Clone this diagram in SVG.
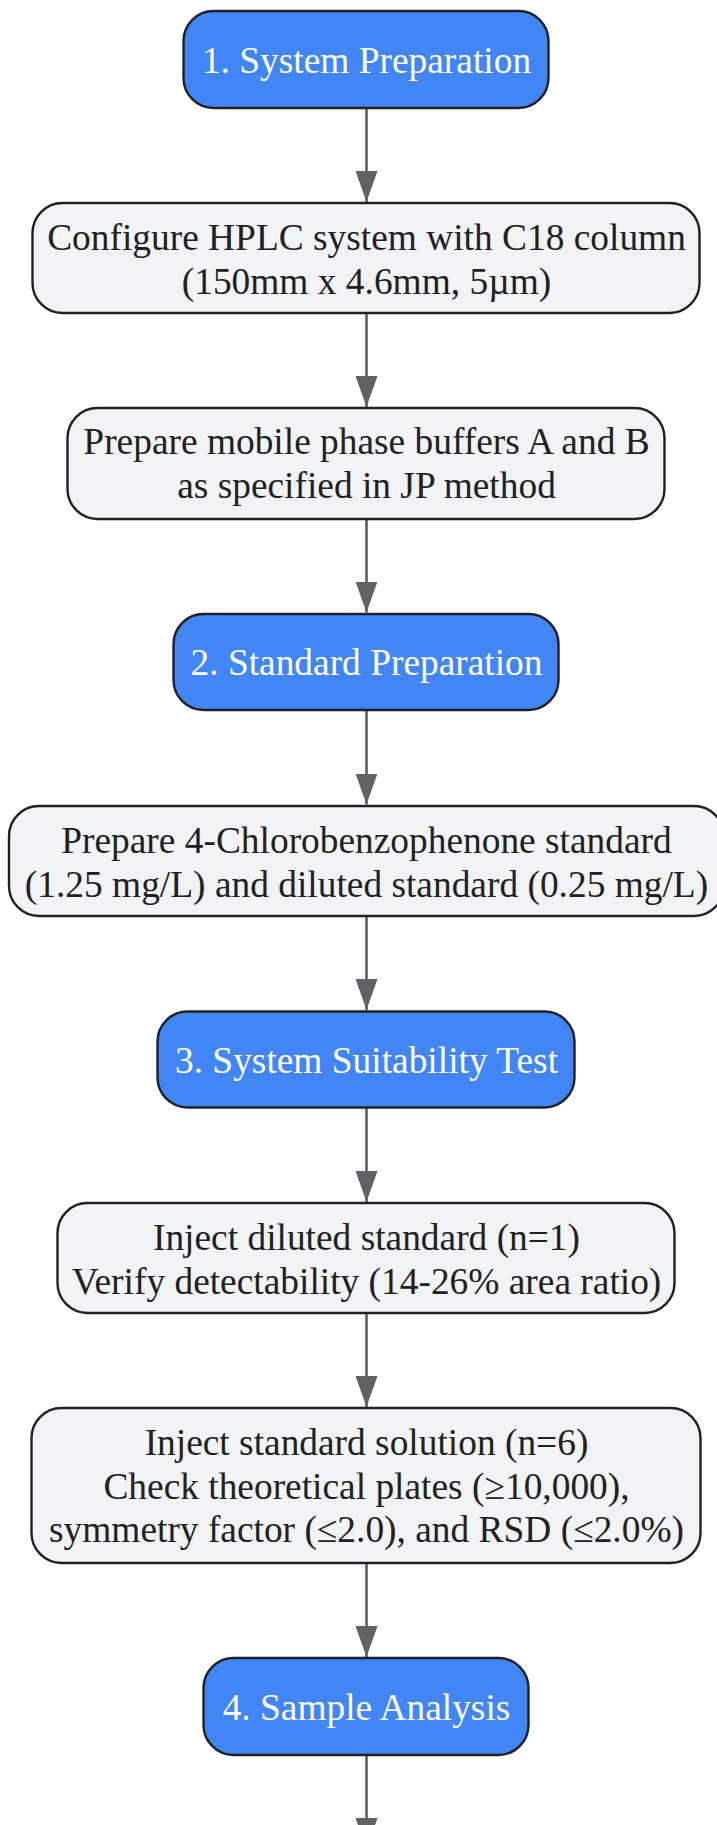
<svg xmlns="http://www.w3.org/2000/svg" width="717" height="1825" viewBox="0 0 717 1825">
<defs>
<style>
.bg{fill:#ffffff}
.phase rect{fill:#4285F4;stroke:#202124;stroke-width:2.4}
.step rect{fill:#F1F3F4;stroke:#202124;stroke-width:2.4}
text{font-family:"Liberation Serif","Times New Roman",serif;font-size:37.4px;text-anchor:middle}
.phase text{fill:#ffffff}
.step text{fill:#202124}
.edges line{stroke:#5F6368;stroke-width:2.7;fill:none}
</style>
<marker id="arrow" markerUnits="userSpaceOnUse" markerWidth="31" markerHeight="22" viewBox="0 0 31 22" refX="31" refY="11" orient="auto">
<path d="M0,0 L31,11 L0,22 z" fill="#5F6368"/>
</marker>
</defs>
<rect class="bg" x="0" y="0" width="717" height="1825"/>
<g id="edges" class="edges">
<line x1="366.5" y1="108" x2="366.5" y2="202" marker-end="url(#arrow)"/>
<line x1="366.5" y1="313" x2="366.5" y2="407" marker-end="url(#arrow)"/>
<line x1="366.5" y1="519" x2="366.5" y2="612.5" marker-end="url(#arrow)"/>
<line x1="366.5" y1="710" x2="366.5" y2="804.5" marker-end="url(#arrow)"/>
<line x1="366.5" y1="916" x2="366.5" y2="1010" marker-end="url(#arrow)"/>
<line x1="366.5" y1="1108" x2="366.5" y2="1202" marker-end="url(#arrow)"/>
<line x1="366.5" y1="1313" x2="366.5" y2="1407" marker-end="url(#arrow)"/>
<line x1="366.5" y1="1563" x2="366.5" y2="1657" marker-end="url(#arrow)"/>
<line x1="366.5" y1="1755" x2="366.5" y2="1849" marker-end="url(#arrow)"/>
</g>
<g id="n1" class="phase">
<rect x="183.5" y="11" width="365" height="97" rx="30" ry="30"/>
<text x="366.5" y="72.5">1. System Preparation</text>
</g>
<g id="n2" class="step">
<rect x="32.5" y="203" width="667" height="110" rx="30" ry="30"/>
<text x="366.5" y="249.5">Configure HPLC system with C18 column</text>
<text x="366.5" y="293.5">(150mm x 4.6mm, 5µm)</text>
</g>
<g id="n3" class="step">
<rect x="67.5" y="408" width="597" height="111" rx="30" ry="30"/>
<text x="366.5" y="454">Prepare mobile phase buffers A and B</text>
<text x="366.5" y="498">as specified in JP method</text>
</g>
<g id="n4" class="phase">
<rect x="173.5" y="614" width="385" height="96" rx="30" ry="30"/>
<text x="366.5" y="675">2. Standard Preparation</text>
</g>
<g id="n5" class="step">
<rect x="9" y="806" width="715" height="110" rx="30" ry="30"/>
<text x="366.5" y="852.5">Prepare 4-Chlorobenzophenone standard</text>
<text x="366.5" y="896.5">(1.25 mg/L) and diluted standard (0.25 mg/L)</text>
</g>
<g id="n6" class="phase">
<rect x="157.5" y="1011.5" width="417" height="96" rx="30" ry="30"/>
<text x="366.5" y="1072.5">3. System Suitability Test</text>
</g>
<g id="n7" class="step">
<rect x="57.5" y="1203" width="617" height="110" rx="30" ry="30"/>
<text x="366.5" y="1249.5">Inject diluted standard (n=1)</text>
<text x="366.5" y="1293.5">Verify detectability (14-26% area ratio)</text>
</g>
<g id="n8" class="step">
<rect x="31.5" y="1408" width="669" height="155" rx="30" ry="30"/>
<text x="366.5" y="1455">Inject standard solution (n=6)</text>
<text x="366.5" y="1498.5">Check theoretical plates (≥10,000),</text>
<text x="366.5" y="1542">symmetry factor (≤2.0), and RSD (≤2.0%)</text>
</g>
<g id="n9" class="phase">
<rect x="203.5" y="1658" width="325" height="97" rx="30" ry="30"/>
<text x="366.5" y="1720">4. Sample Analysis</text>
</g>
</svg>
